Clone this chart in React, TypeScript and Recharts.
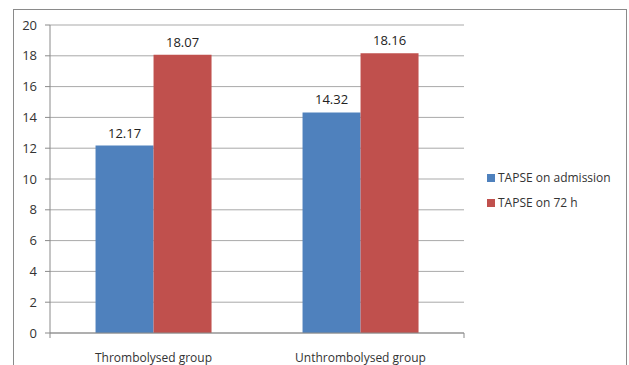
import { BarChart, Bar, XAxis, YAxis, CartesianGrid, LabelList } from 'recharts'

const GROUPS = ['Thrombolysed group', 'Unthrombolysed group']
const ON_ADMISSION = [12.17, 14.32]
const ON_72H = [18.07, 18.16]
const Y_TICKS = [0, 2, 4, 6, 8, 10, 12, 14, 16, 18, 20]
const SERIES = [
  { key: 'admission', name: 'TAPSE on admission', color: '#4F81BD' },
  { key: 'h72', name: 'TAPSE on 72 h', color: '#C0504D' },
]

const data = GROUPS.map((g, i) => ({ group: g, admission: ON_ADMISSION[i], h72: ON_72H[i] }))

const FONT = '"Open Sans", "Liberation Sans", sans-serif'

// category boundary tick mark (Excel style: between groups, not at centres)
function BoundaryTick({ x, y }: any) {
  return <line x1={x} x2={x} y1={y - 5} y2={y} stroke="#8a8a8a" />
}

export default function App() {
  return (
    <div style={{ position: 'absolute', left: 0, top: 0, width: 629, height: 365, background: '#fff', overflow: 'hidden' }}>
      <div style={{ position: 'absolute', left: 13, top: 9, width: 612, height: 370, border: '1px solid #8a8a8a' }} />
      <BarChart
        width={629}
        height={365}
        data={data}
        margin={{ top: 25, right: 165, left: 0, bottom: 0 }}
        barCategoryGap="22%"
        barGap={0}
        style={{ position: 'absolute', left: 0, top: 0 }}
      >
        <CartesianGrid vertical={false} stroke="#a9a9a9" xAxisId="b" />
        <XAxis
          xAxisId="a"
          type="number"
          domain={[0, 2]}
          ticks={[0, 1, 2]}
          interval={0}
          height={6}
          tickSize={0}
          tickMargin={5}
          tick={<BoundaryTick />}
          axisLine={{ stroke: '#8a8a8a' }}
          tickLine={false}
        />
        <XAxis
          xAxisId="b"
          dataKey="group"
          height={26}
          axisLine={false}
          tickLine={false}
          tickMargin={8}
          tick={{ fill: '#333', fontSize: 12, fontFamily: FONT }}
        />
        <YAxis
          width={50}
          domain={[0, 20]}
          ticks={Y_TICKS}
          interval={0}
          tickSize={5}
          tickMargin={8}
          axisLine={{ stroke: '#8a8a8a' }}
          tickLine={{ stroke: '#8a8a8a' }}
          tick={{ fill: '#333', fontSize: 13, fontFamily: FONT }}
        />
        {SERIES.map((s) => (
          <Bar key={s.key} xAxisId="b" dataKey={s.key} name={s.name} fill={s.color} isAnimationActive={false}>
            <LabelList dataKey={s.key} position="top" offset={8} style={{ fill: '#222', fontSize: 13, fontFamily: FONT }} />
          </Bar>
        ))}
      </BarChart>
      {/* legend to the right of the plot */}
      <div style={{ position: 'absolute', left: 487, top: 165, fontFamily: FONT, fontSize: 12, color: '#333' }}>
        {SERIES.map((s) => (
          <div key={s.key} style={{ display: 'flex', alignItems: 'center', height: 25 }}>
            <span style={{ width: 8, height: 8, background: s.color, marginRight: 3 }} />
            {s.name}
          </div>
        ))}
      </div>
    </div>
  )
}
